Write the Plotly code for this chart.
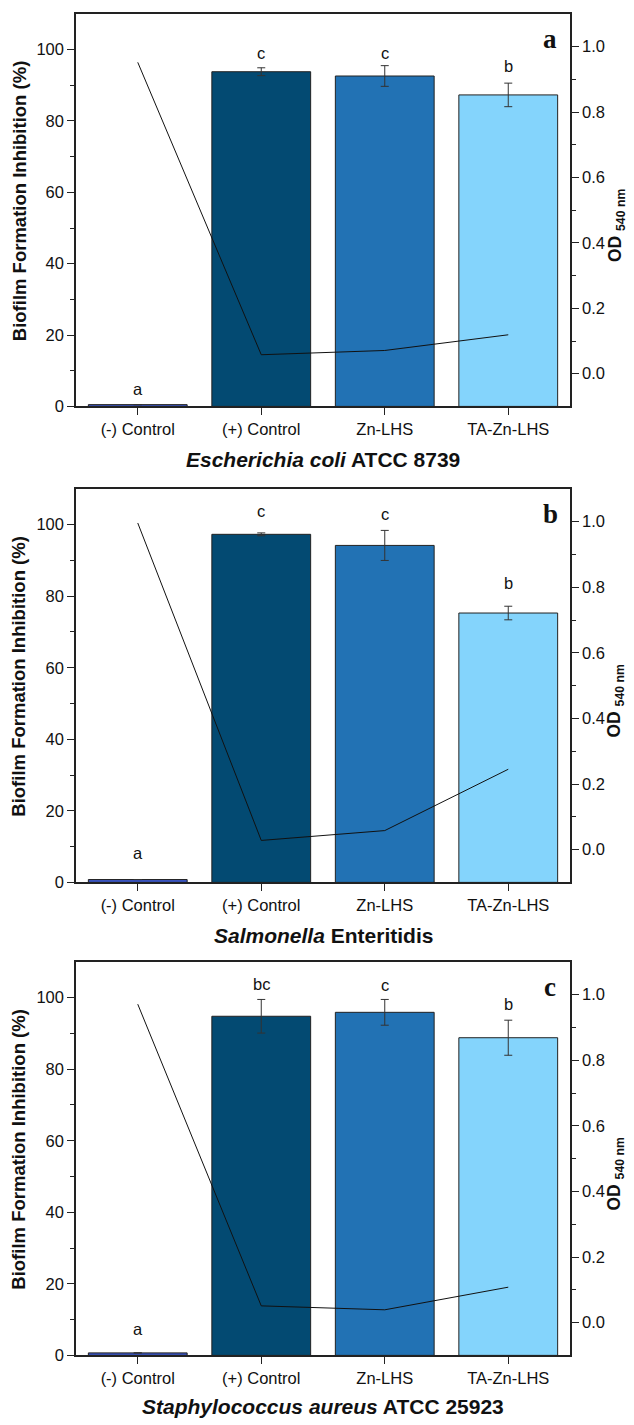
import plotly.graph_objects as go

categories = ["(-) Control", "(+) Control", "Zn-LHS", "TA-Zn-LHS"]
bar_colors = ["#3a55c2", "#034a72", "#2272b4", "#84d4fc"]

# Panel a - Escherichia coli ATCC 8739
inhib_a = [0.5, 93.8, 92.6, 87.3]
err_a = [0.0, 1.1, 2.9, 3.3]
od_a = [0.952, 0.058, 0.071, 0.119]
letters_a = ["a", "c", "c", "b"]
letter_y_a = [4.8, 99.0, 99.0, 95.3]

# Panel b - Salmonella Enteritidis
inhib_b = [0.8, 97.3, 94.2, 75.3]
err_b = [0.0, 0.4, 4.2, 1.9]
od_b = [0.996, 0.028, 0.058, 0.245]
letters_b = ["a", "c", "c", "b"]
letter_y_b = [8.2, 103.8, 103.1, 83.8]

# Panel c - Staphylococcus aureus ATCC 25923
inhib_c = [0.7, 94.8, 95.9, 88.8]
err_c = [0.0, 4.7, 3.6, 4.9]
od_c = [0.971, 0.051, 0.039, 0.108]
letters_c = ["a", "bc", "c", "b"]
letter_y_c = [7.3, 103.9, 103.6, 98.2]

panel_tags = ["a", "b", "c"]
subtitles = ["<b><i>Escherichia coli</i> ATCC 8739</b>",
             "<b><i>Salmonella</i> Enteritidis</b>",
             "<b><i>Staphylococcus aureus</i> ATCC 25923</b>"]

panels = [
    (inhib_a, err_a, od_a, letters_a, letter_y_a),
    (inhib_b, err_b, od_b, letters_b, letter_y_b),
    (inhib_c, err_c, od_c, letters_c, letter_y_c),
]

H = 1425
W = 634
ML, MR = 76, 64
# pixel extents (top, bottom) of each plot area
px_ext = [(14, 409), (492, 888), (968, 1364)]
sub_px = [462, 941, 1415]

FONT = "Liberation Sans, Arial, sans-serif"
fig = go.Figure()
layout = dict(
    width=W, height=H,
    margin=dict(l=ML, r=MR, t=0, b=0),
    plot_bgcolor="white", paper_bgcolor="white",
    showlegend=False,
    font=dict(family=FONT, size=16, color="#111"),
    bargap=0.2,
)
annotations = []
PW = W - ML - MR

for i, (vals, errs, ods, letters, ly) in enumerate(panels):
    n = i + 1
    xname = "x" if n == 1 else f"x{n}"
    yp = 2 * n - 1
    ys = 2 * n
    ypname = "y" if yp == 1 else f"y{yp}"
    ysname = f"y{ys}"
    top, bot = px_ext[i]
    dom = [1 - bot / H, 1 - top / H]

    fig.add_trace(go.Bar(
        x=categories, y=vals, xaxis=xname, yaxis=ypname,
        marker=dict(color=bar_colors, line=dict(color="#222", width=1)),
        width=0.8,
        error_y=dict(type="data", array=errs, visible=True,
                     color="#333", thickness=1, width=4),
    ))
    fig.add_trace(go.Scatter(
        x=categories, y=ods, xaxis=xname, yaxis=ysname,
        mode="lines", line=dict(color="#111", width=1),
    ))

    xkey = "xaxis" if n == 1 else f"xaxis{n}"
    ypkey = "yaxis" if yp == 1 else f"yaxis{yp}"
    yskey = f"yaxis{ys}"
    layout[xkey] = dict(
        domain=[0, 1], anchor=ypname, type="category",
        categoryorder="array", categoryarray=categories,
        range=[-0.5, 3.5],
        showline=True, linecolor="#222", linewidth=1.5, mirror=True,
        ticks="outside", ticklen=7, tickwidth=1.2, tickcolor="#222",
        tickfont=dict(size=16.5, family=FONT, color="#111"),
        showgrid=False, zeroline=False,
    )
    layout[ypkey] = dict(
        domain=dom, anchor=xname, range=[0, 110],
        tickvals=[0, 20, 40, 60, 80, 100],
        showline=True, linecolor="#222", linewidth=1.5,
        ticks="outside", ticklen=7, tickwidth=1.2, tickcolor="#222",
        minor=dict(tickvals=[10, 30, 50, 70, 90], ticks="outside",
                   ticklen=4, tickwidth=1, tickcolor="#222"),
        tickfont=dict(size=16.5, family=FONT, color="#111"),
        showgrid=False, zeroline=False,
    )
    layout[yskey] = dict(
        overlaying=ypname, side="right", anchor=xname,
        range=[-0.1, 1.1],
        tickvals=[0.0, 0.2, 0.4, 0.6, 0.8, 1.0],
        ticktext=["0.0", "0.2", "0.4", "0.6", "0.8", "1.0"],
        showline=True, linecolor="#222", linewidth=1.5,
        ticks="outside", ticklen=7, tickwidth=1.2, tickcolor="#222",
        minor=dict(tickvals=[0.1, 0.3, 0.5, 0.7, 0.9], ticks="outside",
                   ticklen=4, tickwidth=1, tickcolor="#222"),
        tickfont=dict(size=16.5, family=FONT, color="#111"),
        showgrid=False, zeroline=False,
    )

    # significance letters
    for c, t, yv in zip(categories, letters, ly):
        annotations.append(dict(
            x=c, y=yv, xref=xname, yref=ypname, text=t, showarrow=False,
            xanchor="center", yanchor="middle",
            font=dict(size=16.5, family=FONT, color="#111"),
        ))
    # panel tag
    annotations.append(dict(
        x=0.96, y=103, xref=f"{xname} domain", yref=ypname,
        text=f"<b>{panel_tags[i]}</b>", showarrow=False,
        xanchor="center", yanchor="middle",
        font=dict(size=27, family="Liberation Serif, Times New Roman, serif", color="#111"),
    ))
    mid_px = (top + bot) / 2
    # left axis title
    annotations.append(dict(
        x=(19 - ML) / PW, y=1 - (mid_px - 9) / H, xref="paper", yref="paper",
        text="<b>Biofilm Formation Inhibition (%)</b>", textangle=-90,
        showarrow=False, xanchor="center", yanchor="middle",
        font=dict(size=18.5, family=FONT, color="#111"),
    ))
    # right axis title
    annotations.append(dict(
        x=(616 - ML) / PW, y=1 - (mid_px + 16) / H, xref="paper", yref="paper",
        text="<b>OD <sub>540 nm</sub></b>", textangle=-90,
        showarrow=False, xanchor="center", yanchor="middle",
        font=dict(size=17.5, family=FONT, color="#111"),
    ))
    # subtitle
    annotations.append(dict(
        x=0.5, y=1 - sub_px[i] / H, xref="paper", yref="paper",
        text=subtitles[i], showarrow=False,
        xanchor="center", yanchor="middle",
        font=dict(size=21, family=FONT, color="#111"),
    ))

layout["annotations"] = annotations
fig.update_layout(**layout)
fig.write_html("out.html",
               config={"displayModeBar": False},
               post_script="document.body.style.margin='0';document.body.style.padding='0';")
